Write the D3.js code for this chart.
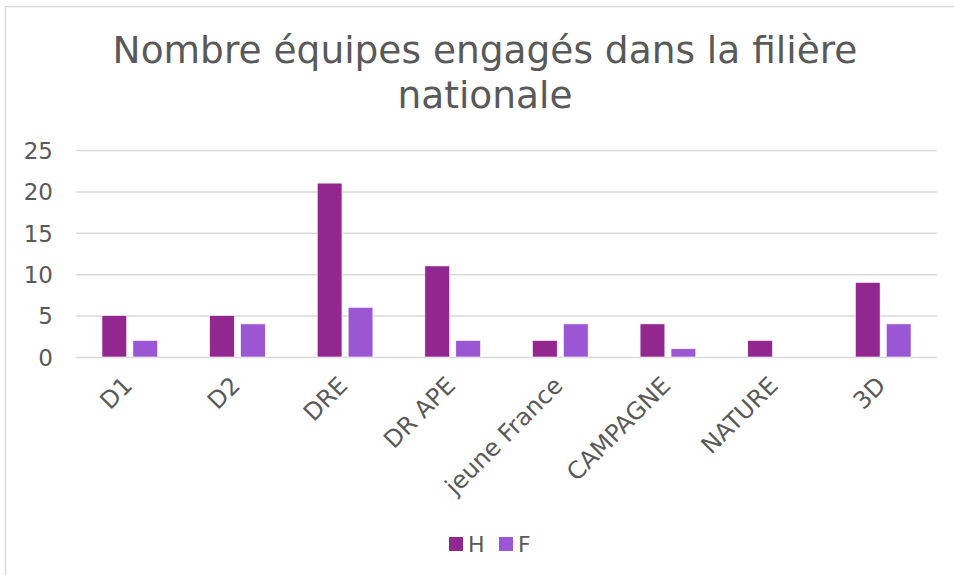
<!DOCTYPE html>
<html>
  <head>
    <meta charset="utf-8" />
    <title>Nombre équipes engagés</title>
    <script src="https://cdn.jsdelivr.net/npm/d3@7"></script>
    <style type="text/css">
      body { margin: 0; background: #fff; }
      text { font-family: "DejaVu Sans", Verdana, sans-serif; fill: #595959; }
    </style>
  </head>
  <body>
    <svg id="chart" width="954" height="575"></svg>
    <script type="text/javascript">
      // données
      var categories = ['D1', 'D2', 'DRE', 'DR APE', 'jeune France', 'CAMPAGNE', 'NATURE', '3D'];
      var seriesNames = ['H', 'F'];
      var valuesH = [5, 5, 21, 11, 2, 4, 2, 9];
      var valuesF = [2, 4, 6, 2, 4, 1, 0, 4];
      var yTicks = [0, 5, 10, 15, 20, 25];
      var colors = ['#92278F', '#9B57D3'];

      var svg = d3.select('#chart');

      // cadre (seulement bord gauche et haut visibles)
      svg.append('line').attr('x1', 5.5).attr('x2', 5.5).attr('y1', 6).attr('y2', 575)
        .attr('stroke', '#d9d9d9').attr('stroke-width', 1.5);
      svg.append('line').attr('x1', 5).attr('x2', 954).attr('y1', 6.5).attr('y2', 6.5)
        .attr('stroke', '#d9d9d9').attr('stroke-width', 1.5);

      var plotL = 76, plotR = 937, plotT = 150, plotB = 357;

      var x = d3.scaleBand().domain(categories).range([plotL, plotR]);
      var xs = d3.scaleBand().domain(seriesNames).range([0, x.bandwidth()])
        .paddingInner(0.2).paddingOuter(0.84);
      var y = d3.scaleLinear().domain([0, 25]).range([plotB, plotT]);

      // titre
      var title = svg.append('text').attr('text-anchor', 'middle')
        .style('font-size', '37.5px');
      title.append('tspan').attr('x', 485).attr('y', 63).text('Nombre équipes engagés dans la filière');
      title.append('tspan').attr('x', 485).attr('y', 108).text('nationale');

      // grille
      svg.append('g').selectAll('line').data(yTicks).join('line')
        .attr('x1', plotL).attr('x2', plotR)
        .attr('y1', d => y(d) + 0.5).attr('y2', d => y(d) + 0.5)
        .attr('stroke', '#d9d9d9').attr('stroke-width', 1.5);

      // axe y
      var yAxis = svg.append('g').attr('transform', 'translate(53,0)')
        .call(d3.axisLeft(y).tickValues(yTicks).tickSize(0).tickPadding(0));
      yAxis.select('.domain').remove();
      yAxis.selectAll('text').style('font-size', '23px')
        .style('font-family', '"DejaVu Sans", Verdana, sans-serif')
        .attr('fill', '#595959').attr('dy', '0.36em');

      // barres
      var data = categories.map((c, i) => ({ cat: c, vals: [valuesH[i], valuesF[i]] }));
      var groups = svg.append('g').selectAll('g').data(data).join('g')
        .attr('transform', d => 'translate(' + x(d.cat) + ',0)');
      groups.selectAll('rect')
        .data(d => d.vals.map((v, j) => ({ key: seriesNames[j], v: v, j: j })))
        .join('rect')
        .filter(d => d.v > 0)
        .attr('x', d => xs(d.key))
        .attr('width', xs.bandwidth())
        .attr('y', d => y(d.v))
        .attr('height', d => y(0) - y(d.v))
        .attr('fill', d => colors[d.j])
        .attr('stroke', '#fff').attr('stroke-width', 0.6);

      // axe x (étiquettes inclinées)
      var xAxis = svg.append('g').attr('transform', 'translate(0,' + plotB + ')')
        .call(d3.axisBottom(x).tickSize(0).tickPadding(0));
      xAxis.select('.domain').remove();
      xAxis.selectAll('text')
        .style('font-size', '24px')
        .style('font-family', '"DejaVu Sans", Verdana, sans-serif')
        .attr('fill', '#595959')
        .attr('text-anchor', 'end')
        .attr('y', 0).attr('dy', '0')
        .attr('transform', 'translate(4,30) rotate(-45)');

      // légende
      var legend = svg.append('g').attr('transform', 'translate(449,537)');
      var items = legend.selectAll('g').data(seriesNames).join('g')
        .attr('transform', (d, i) => 'translate(' + i * 50 + ',0)');
      items.append('rect').attr('width', 14).attr('height', 14)
        .attr('fill', (d, i) => colors[i]);
      items.append('text').attr('x', 19).attr('y', 15)
        .style('font-size', '22px').text(d => d);
    </script>
  </body>
</html>
